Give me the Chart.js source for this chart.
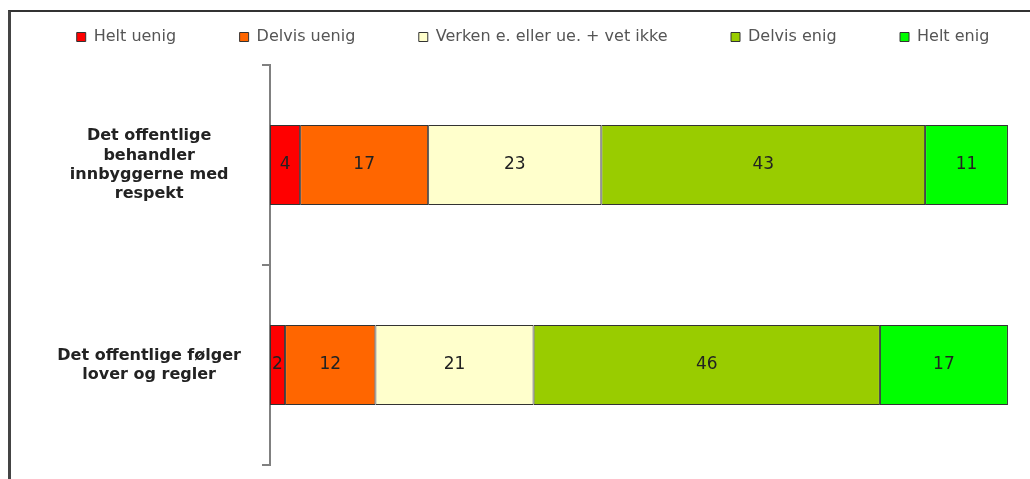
<!DOCTYPE html>
<html lang="no">
<head>
    <meta charset="UTF-8">
    <title>Det offentlige</title>
    <style>
        body { margin: 0; background: #fff; }
        #wrap { position: relative; width: 1030px; height: 479px; }
        #frame {
            position: absolute; left: 8px; top: 10px; width: 1030px; height: 479px;
            border-top: 2px solid #333; border-left: 3px solid #444; pointer-events: none;
        }
    </style>
</head>
<body>
<div id="wrap">
    <canvas id="chart"></canvas>
    <div id="frame"></div>
</div>
<script src="https://cdn.jsdelivr.net/npm/chart.js"></script>
<script>
const categories = [
    ['Det offentlige', 'behandler', 'innbyggerne med', 'respekt'],
    ['Det offentlige følger', 'lover og regler']
];
const seriesNames = ['Helt uenig', 'Delvis uenig', 'Verken e. eller ue. + vet ikke', 'Delvis enig', 'Helt enig'];
const heltUenig = [4, 2];
const delvisUenig = [17, 12];
const verken = [23, 21];
const delvisEnig = [43, 46];
const heltEnig = [11, 17];
const colors = ['#ff0000', '#ff6600', '#ffffcc', '#99cc00', '#00ff00'];

Chart.defaults.font.family = '"DejaVu Sans", sans-serif';

const allValues = [heltUenig, delvisUenig, verken, delvisEnig, heltEnig];
const datasets = allValues.map((vals, i) => ({
    label: seriesNames[i],
    data: vals,
    backgroundColor: colors[i],
    borderColor: '#333',
    borderWidth: 1,
    borderSkipped: false,
    barPercentage: 0.4,
    categoryPercentage: 1
}));

// numbers in the middle of every segment
const valueLabels = {
    id: 'valueLabels',
    afterDatasetsDraw(chart) {
        const ctx = chart.ctx;
        ctx.save();
        ctx.font = '17px "DejaVu Sans"';
        ctx.fillStyle = '#222';
        ctx.textAlign = 'center';
        ctx.textBaseline = 'middle';
        chart.data.datasets.forEach((ds, i) => {
            chart.getDatasetMeta(i).data.forEach((bar, j) => {
                ctx.fillText(ds.data[j], (bar.x + bar.base) / 2, bar.y);
            });
        });
        ctx.restore();
    }
};

// legend: one row with wide gaps, and plot pushed down to y=65
const legendGap = {
    id: 'legendGap',
    beforeInit(chart) {
        const legend = chart.legend;
        const fit = legend.fit;
        const draw = legend.draw;
        legend.fit = function () {
            const mw = this.maxWidth;
            this.maxWidth = mw + 300;
            fit.call(this);
            this.maxWidth = mw;
            this.width = Math.min(this.width, mw);
            this.height = 99.5;
        };
        legend.draw = function () {
            const l = this.left, r = this.right;
            this.left = l - 150;
            this.right = r + 150;
            draw.call(this);
            this.left = l;
            this.right = r;
        };
    }
};

new Chart(document.getElementById('chart'), {
    type: 'bar',
    data: { labels: categories, datasets: datasets },
    options: {
        indexAxis: 'y',
        responsive: true,
        maintainAspectRatio: false,
        animation: false,
        layout: { padding: { left: 43, right: 7, top: -34.5, bottom: 14 } },
        plugins: {
            tooltip: { enabled: false },
            legend: {
                position: 'top',
                labels: {
                    boxWidth: 9,
                    boxHeight: 9,
                    padding: 63.5,
                    color: '#555',
                    font: { size: 16 }
                }
            }
        },
        scales: {
            x: { stacked: true, min: 0, max: 100, display: false },
            y: {
                stacked: true,
                afterFit(scale) {
                    scale.width = 227;
                    scale.paddingTop = 0;
                    scale.paddingBottom = 0;
                },
                border: { display: true, color: '#808080', width: 2 },
                grid: { offset: true, drawOnChartArea: false, drawTicks: true, tickLength: 8, color: '#808080', lineWidth: 2 },
                ticks: {
                    crossAlign: 'center',
                    padding: 21,
                    color: '#222',
                    font: { size: 16, weight: 'bold', lineHeight: 1.2 }
                }
            }
        }
    },
    plugins: [valueLabels, legendGap]
});
</script>
</body>
</html>
